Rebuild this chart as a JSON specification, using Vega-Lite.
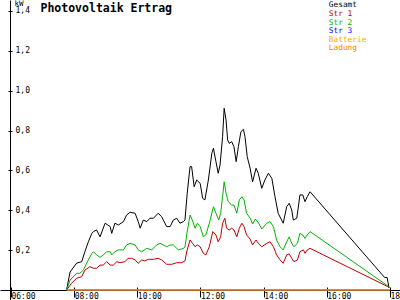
{
  "$schema": "https://vega.github.io/schema/vega-lite/v6.json",
  "width": 400,
  "height": 300,
  "autosize": "none",
  "padding": 0,
  "background": "white",
  "config": {
    "view": {"stroke": null},
    "axis": {"labelFont": "DejaVu Sans Mono", "labelFontSize": 8, "labelColor": "black", "domainColor": "black", "tickColor": "black", "titleFont": "DejaVu Sans Mono", "titleFontSize": 8, "titleFontWeight": "normal", "titleColor": "black", "grid": false}
  },
  "datasets": {
    "pv": [
      {"t": 7.76, "s": "Gesamt", "v": 0},
      {"t": 7.87, "s": "Gesamt", "v": 0.090},
      {"t": 8.08, "s": "Gesamt", "v": 0.135},
      {"t": 8.24, "s": "Gesamt", "v": 0.142},
      {"t": 8.34, "s": "Gesamt", "v": 0.192},
      {"t": 8.45, "s": "Gesamt", "v": 0.242},
      {"t": 8.56, "s": "Gesamt", "v": 0.284},
      {"t": 8.61, "s": "Gesamt", "v": 0.293},
      {"t": 8.71, "s": "Gesamt", "v": 0.301},
      {"t": 8.82, "s": "Gesamt", "v": 0.267},
      {"t": 8.98, "s": "Gesamt", "v": 0.335},
      {"t": 9.14, "s": "Gesamt", "v": 0.318},
      {"t": 9.19, "s": "Gesamt", "v": 0.284},
      {"t": 9.29, "s": "Gesamt", "v": 0.335},
      {"t": 9.40, "s": "Gesamt", "v": 0.326},
      {"t": 9.56, "s": "Gesamt", "v": 0.343},
      {"t": 9.66, "s": "Gesamt", "v": 0.376},
      {"t": 9.77, "s": "Gesamt", "v": 0.390},
      {"t": 9.93, "s": "Gesamt", "v": 0.385},
      {"t": 10.03, "s": "Gesamt", "v": 0.343},
      {"t": 10.09, "s": "Gesamt", "v": 0.310},
      {"t": 10.19, "s": "Gesamt", "v": 0.351},
      {"t": 10.30, "s": "Gesamt", "v": 0.343},
      {"t": 10.40, "s": "Gesamt", "v": 0.360},
      {"t": 10.51, "s": "Gesamt", "v": 0.360},
      {"t": 10.66, "s": "Gesamt", "v": 0.385},
      {"t": 10.77, "s": "Gesamt", "v": 0.368},
      {"t": 10.93, "s": "Gesamt", "v": 0.318},
      {"t": 11.04, "s": "Gesamt", "v": 0.318},
      {"t": 11.14, "s": "Gesamt", "v": 0.351},
      {"t": 11.25, "s": "Gesamt", "v": 0.360},
      {"t": 11.35, "s": "Gesamt", "v": 0.335},
      {"t": 11.46, "s": "Gesamt", "v": 0.343},
      {"t": 11.51, "s": "Gesamt", "v": 0.351},
      {"t": 11.58, "s": "Gesamt", "v": 0.485},
      {"t": 11.67, "s": "Gesamt", "v": 0.619},
      {"t": 11.72, "s": "Gesamt", "v": 0.619},
      {"t": 11.80, "s": "Gesamt", "v": 0.518},
      {"t": 11.88, "s": "Gesamt", "v": 0.552},
      {"t": 11.99, "s": "Gesamt", "v": 0.535},
      {"t": 12.07, "s": "Gesamt", "v": 0.460},
      {"t": 12.14, "s": "Gesamt", "v": 0.452},
      {"t": 12.25, "s": "Gesamt", "v": 0.552},
      {"t": 12.36, "s": "Gesamt", "v": 0.686},
      {"t": 12.41, "s": "Gesamt", "v": 0.711},
      {"t": 12.49, "s": "Gesamt", "v": 0.644},
      {"t": 12.56, "s": "Gesamt", "v": 0.586},
      {"t": 12.62, "s": "Gesamt", "v": 0.627},
      {"t": 12.70, "s": "Gesamt", "v": 0.769},
      {"t": 12.75, "s": "Gesamt", "v": 0.912},
      {"t": 12.81, "s": "Gesamt", "v": 0.853},
      {"t": 12.86, "s": "Gesamt", "v": 0.753},
      {"t": 12.91, "s": "Gesamt", "v": 0.736},
      {"t": 12.99, "s": "Gesamt", "v": 0.744},
      {"t": 13.06, "s": "Gesamt", "v": 0.719},
      {"t": 13.13, "s": "Gesamt", "v": 0.644},
      {"t": 13.20, "s": "Gesamt", "v": 0.719},
      {"t": 13.28, "s": "Gesamt", "v": 0.794},
      {"t": 13.36, "s": "Gesamt", "v": 0.806},
      {"t": 13.41, "s": "Gesamt", "v": 0.769},
      {"t": 13.48, "s": "Gesamt", "v": 0.669},
      {"t": 13.57, "s": "Gesamt", "v": 0.612},
      {"t": 13.65, "s": "Gesamt", "v": 0.543},
      {"t": 13.76, "s": "Gesamt", "v": 0.611},
      {"t": 13.83, "s": "Gesamt", "v": 0.586},
      {"t": 13.94, "s": "Gesamt", "v": 0.510},
      {"t": 14.04, "s": "Gesamt", "v": 0.552},
      {"t": 14.15, "s": "Gesamt", "v": 0.586},
      {"t": 14.26, "s": "Gesamt", "v": 0.560},
      {"t": 14.36, "s": "Gesamt", "v": 0.468},
      {"t": 14.46, "s": "Gesamt", "v": 0.385},
      {"t": 14.62, "s": "Gesamt", "v": 0.335},
      {"t": 14.73, "s": "Gesamt", "v": 0.418},
      {"t": 14.81, "s": "Gesamt", "v": 0.435},
      {"t": 14.89, "s": "Gesamt", "v": 0.401},
      {"t": 14.94, "s": "Gesamt", "v": 0.351},
      {"t": 15.05, "s": "Gesamt", "v": 0.360},
      {"t": 15.15, "s": "Gesamt", "v": 0.477},
      {"t": 15.24, "s": "Gesamt", "v": 0.477},
      {"t": 15.31, "s": "Gesamt", "v": 0.443},
      {"t": 15.38, "s": "Gesamt", "v": 0.468},
      {"t": 15.47, "s": "Gesamt", "v": 0.493},
      {"t": 17.83, "s": "Gesamt", "v": 0.063},
      {"t": 17.91, "s": "Gesamt", "v": 0.063},
      {"t": 17.97, "s": "Gesamt", "v": 0.010},

      {"t": 7.76, "s": "Str 1", "v": 0},
      {"t": 7.92, "s": "Str 1", "v": 0.034},
      {"t": 8.08, "s": "Str 1", "v": 0.059},
      {"t": 8.24, "s": "Str 1", "v": 0.067},
      {"t": 8.34, "s": "Str 1", "v": 0.100},
      {"t": 8.50, "s": "Str 1", "v": 0.117},
      {"t": 8.61, "s": "Str 1", "v": 0.109},
      {"t": 8.71, "s": "Str 1", "v": 0.109},
      {"t": 8.82, "s": "Str 1", "v": 0.125},
      {"t": 8.92, "s": "Str 1", "v": 0.125},
      {"t": 9.03, "s": "Str 1", "v": 0.142},
      {"t": 9.14, "s": "Str 1", "v": 0.125},
      {"t": 9.24, "s": "Str 1", "v": 0.125},
      {"t": 9.35, "s": "Str 1", "v": 0.142},
      {"t": 9.45, "s": "Str 1", "v": 0.137},
      {"t": 9.61, "s": "Str 1", "v": 0.142},
      {"t": 9.71, "s": "Str 1", "v": 0.159},
      {"t": 9.82, "s": "Str 1", "v": 0.159},
      {"t": 9.93, "s": "Str 1", "v": 0.151},
      {"t": 10.03, "s": "Str 1", "v": 0.134},
      {"t": 10.14, "s": "Str 1", "v": 0.151},
      {"t": 10.24, "s": "Str 1", "v": 0.146},
      {"t": 10.35, "s": "Str 1", "v": 0.154},
      {"t": 10.51, "s": "Str 1", "v": 0.154},
      {"t": 10.66, "s": "Str 1", "v": 0.159},
      {"t": 10.77, "s": "Str 1", "v": 0.151},
      {"t": 10.93, "s": "Str 1", "v": 0.129},
      {"t": 11.09, "s": "Str 1", "v": 0.129},
      {"t": 11.25, "s": "Str 1", "v": 0.137},
      {"t": 11.41, "s": "Str 1", "v": 0.137},
      {"t": 11.51, "s": "Str 1", "v": 0.146},
      {"t": 11.57, "s": "Str 1", "v": 0.196},
      {"t": 11.67, "s": "Str 1", "v": 0.251},
      {"t": 11.75, "s": "Str 1", "v": 0.234},
      {"t": 11.83, "s": "Str 1", "v": 0.217},
      {"t": 11.90, "s": "Str 1", "v": 0.226},
      {"t": 11.99, "s": "Str 1", "v": 0.217},
      {"t": 12.09, "s": "Str 1", "v": 0.184},
      {"t": 12.17, "s": "Str 1", "v": 0.176},
      {"t": 12.28, "s": "Str 1", "v": 0.217},
      {"t": 12.39, "s": "Str 1", "v": 0.293},
      {"t": 12.49, "s": "Str 1", "v": 0.276},
      {"t": 12.56, "s": "Str 1", "v": 0.242},
      {"t": 12.64, "s": "Str 1", "v": 0.267},
      {"t": 12.70, "s": "Str 1", "v": 0.335},
      {"t": 12.77, "s": "Str 1", "v": 0.360},
      {"t": 12.83, "s": "Str 1", "v": 0.310},
      {"t": 12.91, "s": "Str 1", "v": 0.301},
      {"t": 12.99, "s": "Str 1", "v": 0.310},
      {"t": 13.06, "s": "Str 1", "v": 0.301},
      {"t": 13.15, "s": "Str 1", "v": 0.267},
      {"t": 13.23, "s": "Str 1", "v": 0.310},
      {"t": 13.31, "s": "Str 1", "v": 0.335},
      {"t": 13.38, "s": "Str 1", "v": 0.318},
      {"t": 13.46, "s": "Str 1", "v": 0.276},
      {"t": 13.57, "s": "Str 1", "v": 0.256},
      {"t": 13.65, "s": "Str 1", "v": 0.226},
      {"t": 13.76, "s": "Str 1", "v": 0.251},
      {"t": 13.83, "s": "Str 1", "v": 0.234},
      {"t": 13.94, "s": "Str 1", "v": 0.217},
      {"t": 14.10, "s": "Str 1", "v": 0.234},
      {"t": 14.20, "s": "Str 1", "v": 0.242},
      {"t": 14.31, "s": "Str 1", "v": 0.217},
      {"t": 14.41, "s": "Str 1", "v": 0.176},
      {"t": 14.52, "s": "Str 1", "v": 0.151},
      {"t": 14.62, "s": "Str 1", "v": 0.134},
      {"t": 14.73, "s": "Str 1", "v": 0.176},
      {"t": 14.81, "s": "Str 1", "v": 0.181},
      {"t": 14.89, "s": "Str 1", "v": 0.159},
      {"t": 14.96, "s": "Str 1", "v": 0.142},
      {"t": 15.07, "s": "Str 1", "v": 0.151},
      {"t": 15.15, "s": "Str 1", "v": 0.192},
      {"t": 15.26, "s": "Str 1", "v": 0.201},
      {"t": 15.31, "s": "Str 1", "v": 0.184},
      {"t": 15.38, "s": "Str 1", "v": 0.201},
      {"t": 15.47, "s": "Str 1", "v": 0.209},
      {"t": 17.98, "s": "Str 1", "v": 0.013},

      {"t": 7.76, "s": "Str 2", "v": 0},
      {"t": 7.87, "s": "Str 2", "v": 0.050},
      {"t": 8.08, "s": "Str 2", "v": 0.084},
      {"t": 8.18, "s": "Str 2", "v": 0.084},
      {"t": 8.29, "s": "Str 2", "v": 0.100},
      {"t": 8.45, "s": "Str 2", "v": 0.151},
      {"t": 8.56, "s": "Str 2", "v": 0.184},
      {"t": 8.61, "s": "Str 2", "v": 0.192},
      {"t": 8.71, "s": "Str 2", "v": 0.176},
      {"t": 8.82, "s": "Str 2", "v": 0.164},
      {"t": 8.92, "s": "Str 2", "v": 0.176},
      {"t": 9.03, "s": "Str 2", "v": 0.192},
      {"t": 9.14, "s": "Str 2", "v": 0.192},
      {"t": 9.19, "s": "Str 2", "v": 0.176},
      {"t": 9.29, "s": "Str 2", "v": 0.192},
      {"t": 9.40, "s": "Str 2", "v": 0.201},
      {"t": 9.56, "s": "Str 2", "v": 0.201},
      {"t": 9.66, "s": "Str 2", "v": 0.226},
      {"t": 9.77, "s": "Str 2", "v": 0.234},
      {"t": 9.93, "s": "Str 2", "v": 0.226},
      {"t": 10.03, "s": "Str 2", "v": 0.201},
      {"t": 10.14, "s": "Str 2", "v": 0.192},
      {"t": 10.30, "s": "Str 2", "v": 0.209},
      {"t": 10.46, "s": "Str 2", "v": 0.201},
      {"t": 10.61, "s": "Str 2", "v": 0.226},
      {"t": 10.72, "s": "Str 2", "v": 0.234},
      {"t": 10.82, "s": "Str 2", "v": 0.226},
      {"t": 10.93, "s": "Str 2", "v": 0.217},
      {"t": 11.04, "s": "Str 2", "v": 0.226},
      {"t": 11.14, "s": "Str 2", "v": 0.226},
      {"t": 11.30, "s": "Str 2", "v": 0.201},
      {"t": 11.46, "s": "Str 2", "v": 0.209},
      {"t": 11.51, "s": "Str 2", "v": 0.216},
      {"t": 11.57, "s": "Str 2", "v": 0.284},
      {"t": 11.67, "s": "Str 2", "v": 0.376},
      {"t": 11.74, "s": "Str 2", "v": 0.351},
      {"t": 11.83, "s": "Str 2", "v": 0.310},
      {"t": 11.90, "s": "Str 2", "v": 0.335},
      {"t": 11.99, "s": "Str 2", "v": 0.318},
      {"t": 12.09, "s": "Str 2", "v": 0.267},
      {"t": 12.17, "s": "Str 2", "v": 0.276},
      {"t": 12.28, "s": "Str 2", "v": 0.335},
      {"t": 12.41, "s": "Str 2", "v": 0.418},
      {"t": 12.49, "s": "Str 2", "v": 0.385},
      {"t": 12.58, "s": "Str 2", "v": 0.351},
      {"t": 12.64, "s": "Str 2", "v": 0.385},
      {"t": 12.70, "s": "Str 2", "v": 0.468},
      {"t": 12.75, "s": "Str 2", "v": 0.543},
      {"t": 12.81, "s": "Str 2", "v": 0.485},
      {"t": 12.88, "s": "Str 2", "v": 0.443},
      {"t": 12.99, "s": "Str 2", "v": 0.426},
      {"t": 13.06, "s": "Str 2", "v": 0.426},
      {"t": 13.15, "s": "Str 2", "v": 0.385},
      {"t": 13.23, "s": "Str 2", "v": 0.452},
      {"t": 13.31, "s": "Str 2", "v": 0.468},
      {"t": 13.38, "s": "Str 2", "v": 0.452},
      {"t": 13.46, "s": "Str 2", "v": 0.385},
      {"t": 13.57, "s": "Str 2", "v": 0.361},
      {"t": 13.65, "s": "Str 2", "v": 0.331},
      {"t": 13.74, "s": "Str 2", "v": 0.356},
      {"t": 13.84, "s": "Str 2", "v": 0.336},
      {"t": 13.94, "s": "Str 2", "v": 0.306},
      {"t": 14.10, "s": "Str 2", "v": 0.335},
      {"t": 14.20, "s": "Str 2", "v": 0.343},
      {"t": 14.31, "s": "Str 2", "v": 0.318},
      {"t": 14.41, "s": "Str 2", "v": 0.251},
      {"t": 14.52, "s": "Str 2", "v": 0.217},
      {"t": 14.62, "s": "Str 2", "v": 0.201},
      {"t": 14.73, "s": "Str 2", "v": 0.242},
      {"t": 14.81, "s": "Str 2", "v": 0.267},
      {"t": 14.89, "s": "Str 2", "v": 0.234},
      {"t": 14.96, "s": "Str 2", "v": 0.217},
      {"t": 15.07, "s": "Str 2", "v": 0.234},
      {"t": 15.15, "s": "Str 2", "v": 0.284},
      {"t": 15.24, "s": "Str 2", "v": 0.276},
      {"t": 15.31, "s": "Str 2", "v": 0.259},
      {"t": 15.38, "s": "Str 2", "v": 0.276},
      {"t": 15.47, "s": "Str 2", "v": 0.293},
      {"t": 17.98, "s": "Str 2", "v": 0.015},

      {"t": 7.76, "s": "Str 3", "v": 0},
      {"t": 17.99, "s": "Str 3", "v": 0},
      {"t": 7.76, "s": "Batterie", "v": 0},
      {"t": 17.99, "s": "Batterie", "v": 0},
      {"t": 7.76, "s": "Ladung", "v": 0},
      {"t": 17.99, "s": "Ladung", "v": 0}
    ]
  },
  "layer": [
    {
      "data": {"name": "pv"},
      "mark": {"type": "line", "strokeWidth": 1, "interpolate": "linear"},
      "encoding": {
        "x": {"field": "t", "type": "quantitative",
          "scale": {"domain": [5.652, 18.318], "nice": false, "zero": false},
          "axis": {"orient": "bottom", "offset": -10, "values": [6, 8, 10, 12, 14, 16, 18], "tickSize": 7, "labelAlign": "left", "labelBaseline": "top", "labelPadding": -5, "labelDx": 1, "labelFlush": false, "labelOverlap": false, "title": null,
            "labelExpr": "(datum.value < 10 ? '0' : '') + datum.value + ':00'"}},
        "y": {"field": "v", "type": "quantitative",
          "scale": {"domain": [-0.0502, 1.4551], "nice": false, "zero": false},
          "axis": {"orient": "left", "offset": -10, "values": [0.2, 0.4, 0.6, 0.8, 1.0, 1.2, 1.4], "tickSize": 2, "labelAlign": "left", "labelBaseline": "middle", "labelPadding": -7, "labelFlush": false, "labelOverlap": false,
            "labelExpr": "replace(format(datum.value, '.1f'), '.', ',')",
            "title": "kW", "titleFontSize": 7.5, "titleAngle": 0, "titleAlign": "left", "titleBaseline": "top", "titleX": 4, "titleY": -0.5}},
        "color": {"field": "s", "type": "nominal",
          "scale": {"domain": ["Gesamt", "Str 1", "Str 2", "Str 3", "Batterie", "Ladung"], "range": ["#000000", "#C00000", "#00B400", "#0000FF", "#FFA500", "#FF8000"]},
          "legend": {"orient": "none", "legendX": 321, "legendY": 1.5, "title": null, "symbolSize": 0, "symbolOpacity": 0, "symbolStrokeWidth": 0, "labelOffset": 0, "padding": 0, "rowPadding": -0.4, "labelFont": "DejaVu Sans Mono", "labelFontSize": 7.8,
            "encode": {"labels": {"update": {"fill": {"scale": "color", "field": "value"}}}}}}
      }
    },
    {
      "mark": {"type": "point", "shape": "M-1,1L0,0L1,1", "filled": false, "stroke": "black", "strokeWidth": 1, "size": 36, "opacity": 1},
      "encoding": {
        "x": {"datum": 5.969, "type": "quantitative",
          "axis": {"orient": "top", "offset": -290, "values": [6, 8, 10, 12, 14, 16, 18], "tickSize": 3, "labels": false, "domain": false,
            "title": "Photovoltaik Ertrag", "titleFont": "DejaVu Sans Mono", "titleFontSize": 11.5, "titleFontWeight": "bold", "titleColor": "black", "titleAngle": 0, "titleAlign": "left", "titleBaseline": "alphabetic", "titleX": 40, "titleY": -279}},
        "y": {"datum": 1.445, "type": "quantitative",
          "axis": {"orient": "right", "offset": -390, "values": [0.2, 0.4, 0.6, 0.8, 1.0, 1.2, 1.4], "tickSize": 2, "labels": false, "domain": false, "title": null}}
      }
    },
    {
      "mark": {"type": "point", "shape": "M-1,-1L0,0L-1,1", "filled": false, "stroke": "black", "strokeWidth": 1, "size": 36, "opacity": 1},
      "encoding": {
        "x": {"datum": 18.29, "type": "quantitative", "axis": null},
        "y": {"datum": 0, "type": "quantitative", "axis": null}
      }
    }
  ],
  "resolve": {"axis": {"x": "independent", "y": "independent"}}
}
